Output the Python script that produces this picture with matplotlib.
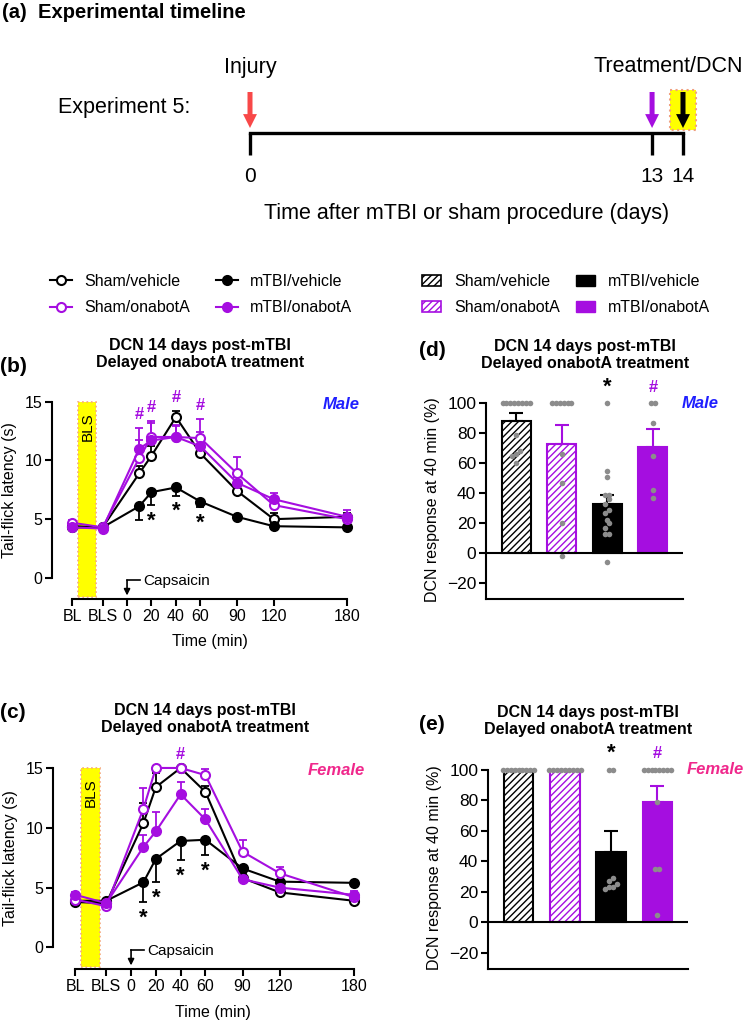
import numpy as np
import matplotlib.pyplot as plt
from matplotlib.lines import Line2D
from matplotlib.patches import Patch, Rectangle

plt.rcParams["font.family"] = ["Liberation Sans", "DejaVu Sans"]
plt.rcParams["hatch.linewidth"] = 1.0
plt.rcParams["axes.linewidth"] = 1.5

FIG_W, FIG_H = 744, 1023
PURPLE = "#a50ee0"
GREY = "#8c8c8c"
MALE_BLUE = "#1f1fff"
FEMALE_PINK = "#f0288c"

# (a) timeline, days after injury
timeline_days = [0, 13, 14]
timeline_labels = ["0", "13", "14"]
injury_day = 0
treatment_day = 13
dcn_day = 14

# (b)/(c) tail-flick latency (s), mean and SEM
time_x = [-45, -20, 10, 20, 40, 60, 90, 120, 180]
tick_x = [-45, -20, 0, 20, 40, 60, 90, 120, 180]
tick_labels = ["BL", "BLS", "0", "20", "40", "60", "90", "120", "180"]

male_sham_veh = [4.4, 4.3, 8.9, 10.4, 13.7, 10.6, 7.4, 5.0, 5.2]
male_sham_veh_sem = [0.2, 0.2, 0.6, 0.8, 0.5, 0.3, 0.3, 0.5, 0.3]
male_mtbi_veh = [4.3, 4.3, 6.1, 7.3, 7.7, 6.5, 5.2, 4.4, 4.3]
male_mtbi_veh_sem = [0.2, 0.2, 1.2, 1.1, 0.7, 0.5, 0.3, 0.2, 0.2]
male_sham_ona = [4.7, 4.3, 10.2, 12.0, 12.0, 11.9, 8.9, 6.2, 5.0]
male_sham_ona_sem = [0.2, 0.2, 1.5, 1.4, 0.9, 1.6, 1.4, 0.4, 0.4]
male_mtbi_ona = [4.3, 4.2, 11.0, 11.7, 12.0, 11.2, 8.1, 6.7, 5.2]
male_mtbi_ona_sem = [0.2, 0.2, 1.8, 1.5, 1.0, 1.2, 0.5, 0.5, 0.6]
male_star_times = [20, 40, 60]
male_hash_times = [10, 20, 40, 60]

female_sham_veh = [3.8, 3.7, 10.4, 13.4, 15.0, 13.0, 5.8, 4.6, 3.9]
female_sham_veh_sem = [0.2, 0.2, 1.7, 1.2, 0.0, 0.5, 0.3, 0.2, 0.2]
female_mtbi_veh = [3.9, 3.9, 5.45, 7.4, 8.9, 9.0, 6.6, 5.5, 5.4]
female_mtbi_veh_sem = [0.2, 0.2, 1.65, 1.9, 1.6, 1.3, 0.3, 0.2, 0.2]
female_sham_ona = [4.0, 3.45, 11.6, 15.0, 15.0, 14.4, 8.0, 6.2, 4.2]
female_sham_ona_sem = [0.2, 0.2, 1.7, 0.0, 0.0, 0.5, 1.0, 0.5, 0.2]
female_mtbi_ona = [4.4, 3.7, 8.4, 9.7, 12.8, 10.7, 5.7, 5.0, 4.4]
female_mtbi_ona_sem = [0.2, 0.2, 1.0, 1.6, 1.0, 0.9, 0.3, 0.3, 0.3]
female_star_times = [10, 20, 40, 60]
female_hash_times = [40]

# (d)/(e) DCN response at 40 min (%)
bar_groups = ["Sham/vehicle", "Sham/onabotA", "mTBI/vehicle", "mTBI/onabotA"]
male_bar_mean = [88, 73, 33, 71]
male_bar_sem = [5.8, 12.5, 6.0, 12.0]
male_dots = [
    [100, 100, 100, 100, 100, 100, 100, 100, 79, 68, 66, 65, 60],
    [100, 100, 100, 100, 100, 100, 66, 47, 20, -2],
    [100, 55, 51, 39, 39, 36, 33, 29, 27, 22, 20, 17, 13, 13, -6],
    [100, 100, 87, 65, 42, 37],
]
male_bar_marks = ["", "", "*", "#"]

female_bar_mean = [100, 100, 46, 79]
female_bar_sem = [0, 0, 14, 10.5]
female_dots = [
    [100, 100, 100, 100, 100, 100, 100, 100, 100],
    [100, 100, 100, 100, 100, 100, 100, 100, 100],
    [100, 100, 29, 27, 25, 22, 23, 23],
    [100, 100, 100, 100, 100, 100, 100, 100, 79, 35, 35, 5],
]
female_bar_marks = ["", "", "*", "#"]


def px_axes(fig, left, top, right, bottom):
    return fig.add_axes([left / FIG_W, 1 - bottom / FIG_H,
                         (right - left) / FIG_W, (bottom - top) / FIG_H])


def swarm_offsets(values, spacing, tol):
    vals = np.asarray(values, dtype=float)
    offsets = np.zeros(len(vals))
    groups = []
    for i in np.argsort(vals):
        if groups and abs(vals[i] - vals[groups[-1][0]]) <= tol:
            groups[-1].append(i)
        else:
            groups.append([i])
    for g in groups:
        for k, i in enumerate(g):
            offsets[i] = (k - (len(g) - 1) / 2) * spacing
    return offsets


def draw_timeline(fig):
    ax = px_axes(fig, 0, 0, FIG_W, 230)
    scale = (683 - 250) / 14
    ax.set_xlim(-250 / scale, (FIG_W - 250) / scale)
    ax.set_ylim(230, 0)
    ax.axis("off")

    ax.plot([timeline_days[0], timeline_days[-1]], [133, 133], color="k", lw=2.4,
            solid_capstyle="projecting")
    ax.vlines(timeline_days, 133, 155, color="k", lw=2.4)
    for d, lab in zip(timeline_days, timeline_labels):
        ax.text(d, 176, lab, ha="center", va="center", fontsize=15)

    ax.add_patch(Rectangle((dcn_day - 0.42, 90), 0.84, 40, facecolor="#ffff00",
                           edgecolor="#f0a080", ls=":", lw=1.5, zorder=1))
    arrows = [(injury_day, "#f84848"), (treatment_day, PURPLE), (dcn_day, "k")]
    for d, c in arrows:
        ax.annotate("", xy=(d, 128), xytext=(d, 92),
                    arrowprops=dict(facecolor=c, edgecolor="none", width=3.6,
                                    headwidth=10, headlength=10, shrink=0), zorder=3)

    ax.text(-1.94, 107, "Experiment 5:", ha="right", va="center", fontsize=15.5)
    ax.text(injury_day, 67, "Injury", ha="center", va="center", fontsize=15.5)
    ax.text(15.95, 67, "Treatment/DCN", ha="right", va="center", fontsize=15.5)
    ax.text(7, 213, "Time after mTBI or sham procedure (days)", ha="center",
            va="center", fontsize=15.5)
    fig.text(2 / FIG_W, 1 - 12 / FIG_H, "(a)  Experimental timeline", ha="left",
             va="center", fontsize=14.5, fontweight="bold")


def draw_time_course(ax, groups, star_times, hash_times, sex, sex_color):
    ax.add_patch(Rectangle((-40, -1.65), 15, 16.65, facecolor="#ffff00",
                           edgecolor="#f5a87c", ls=":", lw=1.2, zorder=1))
    ax.text(-32.5, 12.9, "BLS", rotation=90, ha="center", va="center", fontsize=11)

    tops = np.full(len(time_x), -np.inf)
    star_base = None
    for label, vals, sem, color, filled, err_dir in groups:
        vals = np.asarray(vals)
        sem = np.asarray(sem)
        zeros = np.zeros_like(sem)
        yerr = [zeros, sem] if err_dir == "up" else [sem, zeros]
        ax.errorbar(time_x, vals, yerr=yerr, fmt="none", ecolor=color,
                    elinewidth=1.3, capsize=2.6, capthick=1.3, zorder=3)
        ax.plot(time_x, vals, color=color, lw=1.5, marker="o", ms=6.5,
                mfc=color if filled else "white", mec=color, mew=1.5, zorder=4)
        if err_dir == "up":
            tops = np.maximum(tops, vals + sem)
        else:
            star_base = vals - sem
            tops = np.maximum(tops, vals)

    for t in star_times:
        i = time_x.index(t)
        ax.text(t, star_base[i] - 1.35, "*", ha="center", va="center",
                fontsize=16, fontweight="bold")
    for t in hash_times:
        i = time_x.index(t)
        ax.text(t, tops[i] + 1.15, "#", ha="center", va="center", fontsize=12,
                fontweight="bold", color=PURPLE)

    ax.text(1.0, 14.8, sex, transform=ax.get_yaxis_transform(), ha="right",
            va="center", fontsize=12, fontweight="bold", fontstyle="italic",
            color=sex_color)

    # capsaicin injection marker at t = 0
    ax.plot([10.5, 0], [-0.2, -0.2], color="k", lw=1.2, clip_on=False)
    ax.annotate("", xy=(0, -1.5), xytext=(0, -0.2),
                arrowprops=dict(arrowstyle="-|>", color="k", lw=1.2,
                                mutation_scale=9, shrinkA=0, shrinkB=0))
    ax.text(13, -0.3, "Capsaicin", ha="left", va="center", fontsize=11)

    ax.set_ylim(-1.8, 16)
    ax.set_yticks([0, 5, 10, 15])
    ax.set_xticks(tick_x)
    ax.set_xticklabels(tick_labels)
    ax.spines["left"].set_bounds(0, 15)
    ax.spines["bottom"].set_bounds(tick_x[0], tick_x[-1])
    ax.spines[["top", "right"]].set_visible(False)
    ax.tick_params(labelsize=11.5, length=5, width=1.5, pad=2)
    ax.set_ylabel("Tail-flick latency (s)", fontsize=11.5, va="center")
    ax.set_xlabel("Time (min)", fontsize=11.5, va="center")
    ax.yaxis.set_label_coords(-0.137, 0.52)
    ax.xaxis.set_label_coords(0.513, -0.205)


def draw_bars(ax, means, sems, dots, marks, sex, sex_color):
    x = np.arange(len(means))
    faces = ["white", "white", "black", PURPLE]
    edges = ["black", PURPLE, "black", PURPLE]
    hatches = ["/////", "/////", None, None]
    for i in x:
        ax.bar(i, means[i], width=0.64, color=faces[i], edgecolor=edges[i],
               hatch=hatches[i], lw=1.5, zorder=2)
        ax.errorbar(i, means[i], yerr=[[0], [sems[i]]], fmt="none",
                    ecolor=edges[i], elinewidth=1.5, capsize=5, capthick=1.5,
                    zorder=3)
        off = swarm_offsets(dots[i], 0.085, 3)
        ax.plot(i + off, dots[i], "o", color=GREY, ms=4, mec="none", zorder=4,
                clip_on=False)
        if marks[i] == "*":
            ax.text(i, max(dots[i]) + 10.5, "*", ha="center", va="center",
                    fontsize=16, fontweight="bold", color="k")
        elif marks[i] == "#":
            ax.text(i, max(dots[i]) + 10.5, "#", ha="center", va="center",
                    fontsize=12, fontweight="bold", color=PURPLE)

    ax.axhline(0, color="k", lw=1.5, zorder=5)
    ax.text(3.63, 100, sex, ha="left", va="center", fontsize=12,
            fontweight="bold", fontstyle="italic", color=sex_color)

    ax.set_xlim(-0.66, 3.66)
    ax.set_ylim(-30.5, 115.5)
    ax.set_yticks([-20, 0, 20, 40, 60, 80, 100])
    ax.set_xticks([])
    ax.spines["left"].set_bounds(-30.5, 100)
    ax.spines[["top", "right"]].set_visible(False)
    ax.tick_params(labelsize=12.5, length=5, width=1.5, pad=2)
    ax.set_ylabel("DCN response at 40 min (%)", fontsize=11.5, va="center")
    ax.yaxis.set_label_coords(-0.27, 0.455)


fig = plt.figure(figsize=(FIG_W / 100, FIG_H / 100), dpi=100)

draw_timeline(fig)

# legends
line_handles = [
    Line2D([0], [0], color="k", marker="o", mfc="white", mec="k", ms=6.5, mew=1.5, lw=1.5),
    Line2D([0], [0], color=PURPLE, marker="o", mfc="white", mec=PURPLE, ms=6.5, mew=1.5, lw=1.5),
    Line2D([0], [0], color="k", marker="o", mfc="k", mec="k", ms=6.5, mew=1.5, lw=1.5),
    Line2D([0], [0], color=PURPLE, marker="o", mfc=PURPLE, mec=PURPLE, ms=6.5, mew=1.5, lw=1.5),
]
fig.legend(line_handles, ["Sham/vehicle", "Sham/onabotA", "mTBI/vehicle", "mTBI/onabotA"],
           ncol=2, loc="upper left", bbox_to_anchor=(50 / FIG_W, 1 - 274 / FIG_H),
           frameon=False, fontsize=11.5, handlelength=1.4, handletextpad=0.75,
           columnspacing=1.6, labelspacing=0.7, borderpad=0, borderaxespad=0)

bar_handles = [
    Patch(facecolor="white", edgecolor="k", hatch="/////", lw=1.2),
    Patch(facecolor="white", edgecolor=PURPLE, hatch="/////", lw=1.2),
    Patch(facecolor="k", edgecolor="k"),
    Patch(facecolor=PURPLE, edgecolor=PURPLE),
]
fig.legend(bar_handles, ["Sham/vehicle", "Sham/onabotA", "mTBI/vehicle", "mTBI/onabotA"],
           ncol=2, loc="upper left", bbox_to_anchor=(422 / FIG_W, 1 - 274 / FIG_H),
           frameon=False, fontsize=11.5, handlelength=1.2, handleheight=0.75,
           handletextpad=0.8, columnspacing=1.0, labelspacing=0.7, borderpad=0,
           borderaxespad=0)

# (b) male time course
ax_b = px_axes(fig, 52, 390, 360, 599)
ax_b.set_xlim(-61.4, 190.6)
draw_time_course(ax_b, [
    ("Sham/vehicle", male_sham_veh, male_sham_veh_sem, "k", False, "up"),
    ("mTBI/vehicle", male_mtbi_veh, male_mtbi_veh_sem, "k", True, "down"),
    ("Sham/onabotA", male_sham_ona, male_sham_ona_sem, PURPLE, False, "up"),
    ("mTBI/onabotA", male_mtbi_ona, male_mtbi_ona_sem, PURPLE, True, "up"),
], male_star_times, male_hash_times, "Male", MALE_BLUE)

# (c) female time course
ax_c = px_axes(fig, 53, 756, 365, 969)
ax_c.set_xlim(-63, 188.8)
draw_time_course(ax_c, [
    ("Sham/vehicle", female_sham_veh, female_sham_veh_sem, "k", False, "up"),
    ("mTBI/vehicle", female_mtbi_veh, female_mtbi_veh_sem, "k", True, "down"),
    ("Sham/onabotA", female_sham_ona, female_sham_ona_sem, PURPLE, False, "up"),
    ("mTBI/onabotA", female_mtbi_ona, female_mtbi_ona_sem, PURPLE, True, "up"),
], female_star_times, female_hash_times, "Female", FEMALE_PINK)

# (d) male bars, (e) female bars
ax_d = px_axes(fig, 486, 380, 683, 599)
draw_bars(ax_d, male_bar_mean, male_bar_sem, male_dots, male_bar_marks, "Male", MALE_BLUE)
ax_e = px_axes(fig, 488, 746, 688, 969)
draw_bars(ax_e, female_bar_mean, female_bar_sem, female_dots, female_bar_marks,
          "Female", FEMALE_PINK)

title = "DCN 14 days post-mTBI\nDelayed onabotA treatment"
for cx, cy in [(200, 354), (205, 719), (585, 355), (588, 721)]:
    fig.text(cx / FIG_W, 1 - cy / FIG_H, title, ha="center", va="center",
             fontsize=11.5, fontweight="bold", linespacing=1.15)
for lab, lx, ly in [("(b)", 0, 366), ("(c)", 0, 712), ("(d)", 419, 351), ("(e)", 419, 725)]:
    fig.text(lx / FIG_W, 1 - ly / FIG_H, lab, ha="left", va="center",
             fontsize=15, fontweight="bold")

fig.savefig("out.png", dpi=100)
